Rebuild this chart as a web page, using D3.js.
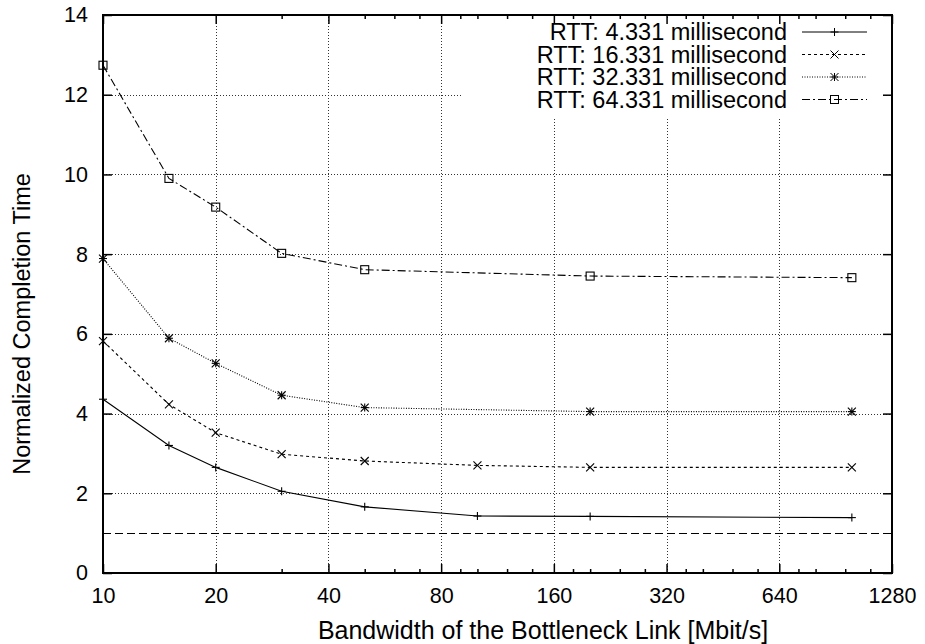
<!DOCTYPE html>
<html>
<head>
<meta charset="utf-8">
<script src="https://cdn.jsdelivr.net/npm/d3@7"></script>
<style>
  html, body { margin: 0; padding: 0; background: #fff; }
  text { font-family: "Liberation Sans", Arial, Helvetica, sans-serif; fill: #000; }
</style>
</head>
<body>
<svg id="chart" width="925" height="644"></svg>
<script>
// ---------------- data ----------------
const xMajorTicks = [10, 20, 40, 80, 160, 320, 640, 1280];
const xMinorTicks = [30, 50, 60, 70, 90, 100, 120, 140, 180, 200, 240, 280,
                     360, 400, 480, 560, 720, 800, 960, 1120];
const yTicks = [0, 2, 4, 6, 8, 10, 12, 14];

const seriesNames = [
  "RTT: 4.331 millisecond",
  "RTT: 16.331 millisecond",
  "RTT: 32.331 millisecond",
  "RTT: 64.331 millisecond"
];
const bwA = [10, 15, 20, 30, 50, 100, 200, 1000];
const bwB = [10, 15, 20, 30, 50, 200, 1000];
const rtt4  = [4.36, 3.20, 2.65, 2.05, 1.66, 1.43, 1.42, 1.39];
const rtt16 = [5.82, 4.23, 3.52, 2.98, 2.81, 2.70, 2.65, 2.65];
const rtt32 = [7.89, 5.89, 5.26, 4.46, 4.15, 4.05, 4.05];
const rtt64 = [12.74, 9.90, 9.18, 8.02, 7.61, 7.45, 7.41];
const referenceLevel = 1;

const xLabel = "Bandwidth of the Bottleneck Link [Mbit/s]";
const yLabel = "Normalized Completion Time";

// ---------------- layout ----------------
const L = 103, R = 892, T = 15, B = 573;
const svg = d3.select("#chart");
const x = d3.scaleLog().base(2).domain([10, 1280]).range([L, R]);
const y = d3.scaleLinear().domain([0, 14]).range([B, T]);
const FS = 21.5;   // tick labels
const FL = 23.5;   // legend and y title
const FX = 25;     // x title

const series = [
  { name: seriesNames[0], xs: bwA, ys: rtt4,  dash: null,        marker: "plus" },
  { name: seriesNames[1], xs: bwA, ys: rtt16, dash: "3,3",       marker: "cross" },
  { name: seriesNames[2], xs: bwB, ys: rtt32, dash: "1,1.5",     marker: "star" },
  { name: seriesNames[3], xs: bwB, ys: rtt64, dash: "8,3,2,3",   marker: "square" }
];

// grid
const grid = svg.append("g").attr("stroke", "#333").attr("stroke-width", 1)
  .attr("stroke-dasharray", "1,2").attr("shape-rendering", "crispEdges");
grid.selectAll("line.gx").data(xMajorTicks.slice(1, -1)).join("line")
  .attr("x1", d => Math.round(x(d)) + 0.5).attr("x2", d => Math.round(x(d)) + 0.5)
  .attr("y1", B).attr("y2", T);
grid.selectAll("line.gy").data(yTicks.slice(1, -1)).join("line")
  .attr("y1", d => Math.round(y(d)) + 0.5).attr("y2", d => Math.round(y(d)) + 0.5)
  .attr("x1", L).attr("x2", R);

// legend background (covers grid)
const legX0 = 463, legX1 = 882, legY0 = 19, legY1 = 118;
svg.append("rect").attr("x", legX0).attr("y", legY0)
  .attr("width", legX1 - legX0).attr("height", legY1 - legY0).attr("fill", "#fff");

// reference line y = 1
const yRef = Math.round(y(referenceLevel)) + 0.5;
svg.append("line")
  .attr("x1", L).attr("x2", R)
  .attr("y1", yRef).attr("y2", yRef)
  .attr("stroke", "#000").attr("stroke-width", 1).attr("stroke-dasharray", "8,4");

// markers
function drawMarker(g, type, cx, cy) {
  const s = 4;
  if (type === "plus" || type === "star") {
    g.append("line").attr("x1", cx - s).attr("x2", cx + s).attr("y1", cy).attr("y2", cy);
    g.append("line").attr("x1", cx).attr("x2", cx).attr("y1", cy - s).attr("y2", cy + s);
  }
  if (type === "cross" || type === "star") {
    g.append("line").attr("x1", cx - s).attr("x2", cx + s).attr("y1", cy - s).attr("y2", cy + s);
    g.append("line").attr("x1", cx - s).attr("x2", cx + s).attr("y1", cy + s).attr("y2", cy - s);
  }
  if (type === "square") {
    g.append("rect").attr("x", cx - s).attr("y", cy - s).attr("width", 2 * s).attr("height", 2 * s)
      .attr("fill", "none");
  }
}

const line = d3.line().x(d => x(d[0])).y(d => y(d[1]));
series.forEach(s => {
  const pts = s.xs.map((v, i) => [v, s.ys[i]]);
  svg.append("path").datum(pts).attr("d", line)
    .attr("fill", "none").attr("stroke", "#000").attr("stroke-width", 1.1)
    .attr("stroke-dasharray", s.dash);
  const g = svg.append("g").attr("stroke", "#000").attr("stroke-width", 1.1);
  pts.forEach(p => drawMarker(g, s.marker, x(p[0]), y(p[1])));
});

// axes (inward ticks)
function styleAxis(g) {
  g.select(".domain").remove();
  g.selectAll(".tick line").attr("stroke", "#000").attr("stroke-width", 1.5);
  g.selectAll(".tick text").attr("font-size", FS).attr("fill", "#000")
    .style("font-family", '"Liberation Sans", Arial, sans-serif');
}
const fmt = d => String(d);
svg.append("g").attr("transform", `translate(0,${B})`)
  .call(d3.axisBottom(x).tickValues(xMajorTicks).tickFormat(fmt).tickSize(-9).tickPadding(15))
  .call(styleAxis);
svg.append("g").attr("transform", `translate(0,${B})`)
  .call(d3.axisBottom(x).tickValues(xMinorTicks).tickFormat("").tickSize(-4))
  .call(styleAxis);
svg.append("g").attr("transform", `translate(0,${T})`)
  .call(d3.axisTop(x).tickValues(xMajorTicks).tickFormat("").tickSize(-9))
  .call(styleAxis);
svg.append("g").attr("transform", `translate(0,${T})`)
  .call(d3.axisTop(x).tickValues(xMinorTicks).tickFormat("").tickSize(-4))
  .call(styleAxis);
svg.append("g").attr("transform", `translate(${L},0)`)
  .call(d3.axisLeft(y).tickValues(yTicks).tickFormat(fmt).tickSize(-9).tickPadding(15))
  .call(styleAxis);
svg.append("g").attr("transform", `translate(${R},0)`)
  .call(d3.axisRight(y).tickValues(yTicks).tickFormat("").tickSize(-9))
  .call(styleAxis);

// border
svg.append("rect").attr("x", L).attr("y", T).attr("width", R - L).attr("height", B - T)
  .attr("fill", "none").attr("stroke", "#000").attr("stroke-width", 2);

// axis labels
svg.append("text").attr("x", 543).attr("y", 639)
  .attr("text-anchor", "middle").attr("font-size", FX).text(xLabel);
svg.append("text")
  .attr("transform", `translate(30,324) rotate(-90)`)
  .attr("text-anchor", "middle").attr("font-size", FL).text(yLabel);

// legend
const legTextX = 787, legLineX0 = 802, legLineX1 = 867;
series.forEach((s, i) => {
  const cy = 32 + i * 22.5;
  svg.append("text").attr("x", legTextX).attr("y", cy).attr("dy", "0.35em")
    .attr("text-anchor", "end").attr("font-size", FL).text(s.name);
  svg.append("line").attr("x1", legLineX0).attr("x2", legLineX1).attr("y1", cy).attr("y2", cy)
    .attr("stroke", "#000").attr("stroke-width", 1).attr("stroke-dasharray", s.dash);
  const g = svg.append("g").attr("stroke", "#000").attr("stroke-width", 1);
  drawMarker(g, s.marker, (legLineX0 + legLineX1) / 2, cy);
});
</script>
</body>
</html>
